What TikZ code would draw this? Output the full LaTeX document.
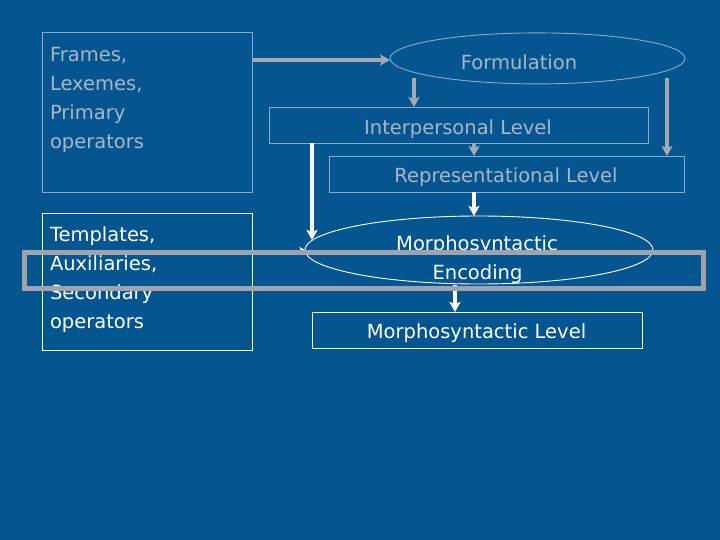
\documentclass[tikz,border=0pt]{standalone}
\usepackage{fontspec}
\setmainfont{DejaVu Sans}
\usetikzlibrary{shapes.geometric,arrows.meta}
\definecolor{bgblue}{RGB}{4,85,144}
\definecolor{lineblue}{RGB}{135,170,205}
\definecolor{arrowgray}{RGB}{165,170,178}
\definecolor{textgray}{RGB}{170,182,198}
\definecolor{framegray}{RGB}{160,164,170}
\begin{document}
\begin{tikzpicture}[x=1pt,y=-1pt, every node/.style={outer sep=0pt},
  box/.style={draw, inner sep=0pt, line width=0.9pt, anchor=north west},
  oval/.style={draw, ellipse, inner sep=0pt, line width=0.9pt},
  txt/.style={font=\fontsize{19.5}{29}\selectfont, inner sep=0pt},
  garrow/.style={draw=arrowgray, line width=3.8pt, -{Stealth[length=10pt,width=11pt,inset=2pt]}},
  warrow/.style={draw=white, line width=3.8pt, -{Stealth[length=10pt,width=11pt,inset=2pt]}},
  thinarrow/.style={draw=white, line width=0.8pt, -{Stealth[length=6pt,width=6pt]}}
]
\fill[bgblue] (0,0) rectangle (720,540);
\useasboundingbox (0,0) rectangle (720,540);

% boxes
\node[box, draw=lineblue, minimum width=210pt, minimum height=160pt] (b1) at (42,32) {};
\node[box, draw=white, minimum width=210pt, minimum height=137pt] (b2) at (42,213) {};
\node[box, draw=lineblue, minimum width=379pt, minimum height=36pt] (ip) at (269,107) {};
\node[box, draw=lineblue, minimum width=355pt, minimum height=36pt] (rp) at (329,156) {};
\node[box, draw=white, minimum width=330pt, minimum height=36pt] (ml) at (312,312) {};
\node[oval, draw=lineblue, minimum width=295pt, minimum height=51pt] (form) at (537.5,58.4) {};
\node[oval, draw=white, minimum width=348pt, minimum height=68pt] (me) at (479,250) {};

% texts
\node[txt, text=textgray, align=left, anchor=north west] (b1t) at (50,47) {Frames,\\Lexemes,\\Primary\\operators};
\node[txt, text=white, align=left, anchor=north west] (b2t) at (50,227) {Templates,\\Auxiliaries,\\Secondary\\operators};
\node[txt, text=textgray, anchor=base] (formt) at (519,70) {Formulation};
\node[txt, text=textgray, anchor=base] (ipt) at (458,135) {Interpersonal Level};
\node[txt, text=textgray, anchor=base] (rpt) at (506,183) {Representational Level};
\node[txt, text=white, anchor=base] (met1) at (477,251) {Morphosyntactic};
\node[txt, text=white, anchor=base] (met2) at (477.5,279) {Encoding};
\node[txt, text=white, anchor=base] (mlt) at (476.5,338) {Morphosyntactic Level};

% gray arrows
\coordinate (g0) at (252,60);
\coordinate (g1) at (414,78);
\coordinate (g2) at (667,78);
\coordinate (g3) at (474,143);
\draw[garrow] (g0) -- (g0 -| form.west);
\draw[garrow] (g1) -- (g1 |- ip.north);
\draw[garrow] (g2) -- (g2 |- rp.north);
\draw[garrow] (g3) -- (g3 |- rp.north);

% white arrows
\coordinate (w1) at (312,143);
\coordinate (w1e) at (312,240);
\coordinate (w2) at (474,192);
\coordinate (w3) at (455,285);
\draw[warrow] (w1) -- (w1e);
\draw[warrow] (w2) -- (w2 |- me.north);
\draw[warrow] (w3) -- (w3 |- ml.north);
\draw[thinarrow] (b2.east |- me.west) -- (me.west);

% highlight frame
\node[draw=framegray, line width=5pt, inner sep=0pt, anchor=north west,
      minimum width=679pt, minimum height=36.5pt] (hl) at (24,252) {};
\end{tikzpicture}
\end{document}
